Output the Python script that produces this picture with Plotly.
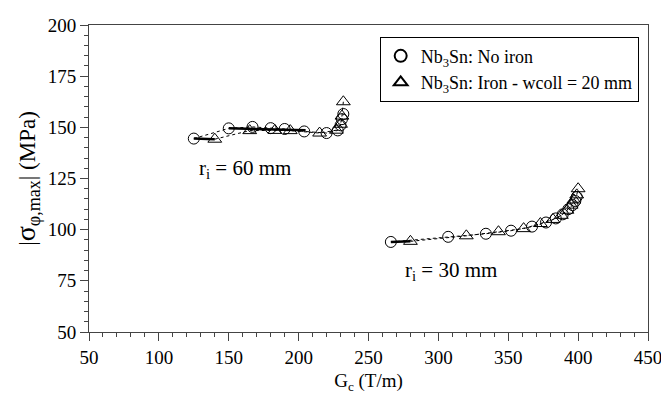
import plotly.graph_objects as go

# r_i = 60 mm cluster
c60_x = [125, 150, 167, 180, 190, 204, 220, 228, 230, 231, 232]
c60_y = [144.5, 149.5, 150.2, 149.6, 149.2, 148.0, 147.2, 148.5, 151.0, 154.0, 156.5]
t60_x = [140, 165, 183, 194, 215, 227, 230, 231, 232]
t60_y = [144.2, 148.4, 148.5, 148.4, 147.2, 148.6, 151.5, 155.5, 162.5]
# r_i = 30 mm cluster
c30_x = [266, 307, 334, 352, 367, 377, 384, 389, 393, 396, 398, 399]
c30_y = [94.0, 96.5, 98.0, 99.5, 101.5, 103.5, 105.5, 107.5, 110.0, 112.0, 114.0, 116.0]
t30_x = [280, 320, 343, 361, 373, 382, 388, 392, 395, 397, 399, 400]
t30_y = [94.3, 97.0, 99.0, 100.5, 103.0, 105.0, 107.0, 109.5, 112.0, 114.5, 117.0, 120.0]
# thick solid links
link_x = [125, 140, None, 150, 205, None, 266, 280]
link_y = [144.5, 144.2, None, 149.5, 148.6, None, 94.0, 94.3]

x_ticks = [50, 100, 150, 200, 250, 300, 350, 400, 450]
y_ticks = [50, 75, 100, 125, 150, 175, 200]

FONT = "Liberation Serif"
fig = go.Figure()

def dotted(xs, ys):
    fig.add_trace(go.Scatter(x=xs, y=ys, mode="lines", showlegend=False,
                             line=dict(color="black", width=1, dash="dot"),
                             hoverinfo="skip"))

dotted(c60_x + [None] + c30_x, c60_y + [None] + c30_y)
dotted(t60_x + [None] + t30_x, t60_y + [None] + t30_y)
fig.add_trace(go.Scatter(x=link_x, y=link_y, mode="lines", showlegend=False,
                         line=dict(color="black", width=2.5), hoverinfo="skip"))

fig.add_trace(go.Scatter(
    x=c60_x + c30_x, y=c60_y + c30_y, mode="markers",
    name="Nb<sub>3</sub>Sn: No iron",
    marker=dict(symbol="circle-open", size=11, color="black", line=dict(width=1))))
fig.add_trace(go.Scatter(
    x=t60_x + t30_x, y=t60_y + t30_y, mode="markers",
    name="Nb<sub>3</sub>Sn: Iron - wcoll = 20 mm",
    marker=dict(symbol="triangle-up-open", size=12, color="black", line=dict(width=1))))

fig.add_annotation(x=127, y=129.5, text="r<sub>i</sub> = 60 mm", showarrow=False,
                   xanchor="left", font=dict(family=FONT, size=21, color="black"))
fig.add_annotation(x=275, y=80, text="r<sub>i</sub> = 30 mm", showarrow=False,
                   xanchor="left", font=dict(family=FONT, size=21, color="black"))

axis_common = dict(showgrid=False, zeroline=False, showline=True, linecolor="#444",
                   linewidth=1, mirror=True, ticks="outside", ticklen=8,
                   tickcolor="#444", ticklabeloverflow="allow",
                   tickfont=dict(family=FONT, size=19, color="black"))
fig.update_xaxes(range=[50, 450], tickvals=x_ticks,
                 minor=dict(dtick=10, ticks="outside", ticklen=4, tickcolor="#444"),
                 title=dict(text="G<sub>c</sub> (T/m)", font=dict(family=FONT, size=19, color="black"),
                            standoff=6),
                 **axis_common)
fig.update_yaxes(range=[50, 200], tickvals=y_ticks,
                 minor=dict(dtick=5, ticks="outside", ticklen=4, tickcolor="#444"),
                 title=dict(text="|<span style=\"font-size:28px\">σ</span><sub><span style=\"font-size:18px\">φ,max</span></sub>| (MPa)",
                            font=dict(family=FONT, size=23, color="black"),
                            standoff=5),
                 **axis_common)

# the page body adds an 8 px offset; the figure is sized so the plot frame
# sits where the reference has it
fig.update_layout(
    width=661, height=397, autosize=False,
    margin=dict(l=81, r=16, t=7, b=73),
    plot_bgcolor="white", paper_bgcolor="white",
    showlegend=True,
    legend=dict(x=0.52, y=0.962, xanchor="left", yanchor="top",
                bordercolor="black", borderwidth=1, bgcolor="white",
                font=dict(family=FONT, size=18, color="black"),
                tracegroupgap=0, itemsizing="constant"),
)

fig.write_html("out.html")
